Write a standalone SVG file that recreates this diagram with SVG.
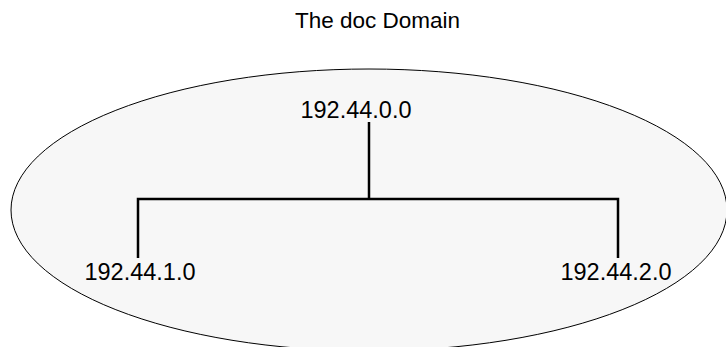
<svg xmlns="http://www.w3.org/2000/svg" width="726" height="347" viewBox="0 0 726 347">
<style>
text{font-family:"Liberation Sans",Arial,sans-serif;fill:#000}
.lbl{font-size:23.5px;text-anchor:middle}
.conn{stroke:#000;stroke-width:2.5;fill:none}
</style>
<rect width="726" height="347" fill="#fff"/>
<g id="domain">
<ellipse cx="369" cy="210" rx="358" ry="141" fill="#f7f7f7" stroke="#000" stroke-width="1"/>
</g>
<text x="377.5" y="28" font-size="22.5" text-anchor="middle">The doc Domain</text>
<g id="connectors">
<path class="conn" d="M369,122 V199"/>
<path class="conn" d="M138,258 V199 H618 V258"/>
</g>
<g id="n0"><text class="lbl" x="356" y="118">192.44.0.0</text></g>
<g id="n1"><text class="lbl" x="140" y="280">192.44.1.0</text></g>
<g id="n2"><text class="lbl" x="616" y="280">192.44.2.0</text></g>
</svg>
